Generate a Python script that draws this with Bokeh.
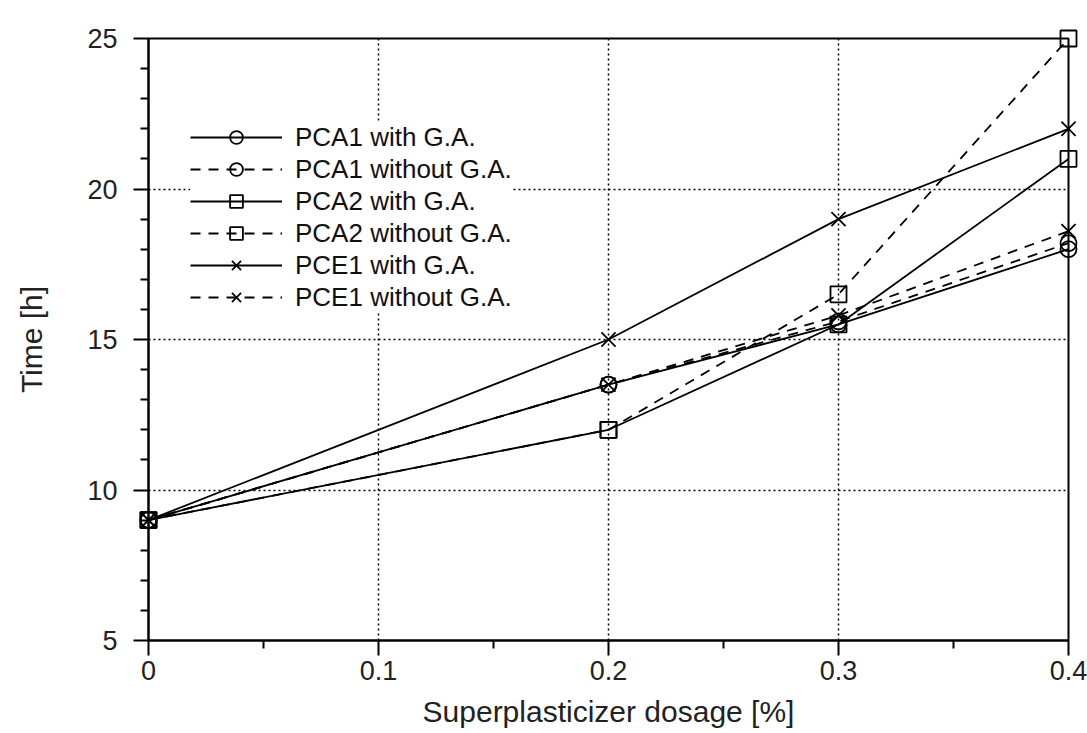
from bokeh.plotting import figure
from bokeh.models import FixedTicker, Legend, LegendItem, Range1d
from bokeh.embed import file_html
from bokeh.resources import INLINE

# ---- data ----
dosage = [0.0, 0.2, 0.3, 0.4]
pca1_with = [9.0, 13.5, 15.5, 18.0]
pca1_without = [9.0, 13.5, 15.6, 18.2]
pca2_with = [9.0, 12.0, 15.5, 21.0]
pca2_without = [9.0, 12.0, 16.5, 25.0]
pce1_with = [9.0, 15.0, 19.0, 22.0]
pce1_without = [9.0, 13.5, 15.8, 18.6]

series_names = ["PCA1 with G.A.", "PCA1 without G.A.", "PCA2 with G.A.",
                "PCA2 without G.A.", "PCE1 with G.A.", "PCE1 without G.A."]
series_values = [pca1_with, pca1_without, pca2_with, pca2_without, pce1_with, pce1_without]
series_markers = ["circle", "circle", "square", "square", "x", "x"]
series_dash = ["solid", "10 8", "solid", "10 8", "solid", "10 8"]

xticks = [0.0, 0.1, 0.2, 0.3, 0.4]
xtick_labels = ["0", "0.1", "0.2", "0.3", "0.4"]
xminor = [0.05, 0.15, 0.25, 0.35]
yticks = [5, 10, 15, 20, 25]
yminor = [v for v in range(6, 25) if v % 5 != 0]

FONT = "Liberation Sans"

p = figure(width=1087, height=733, output_backend="svg", toolbar_location=None,
           x_range=Range1d(0, 0.4), y_range=Range1d(5, 25))
p.min_border_left = 148
p.min_border_right = 19
p.min_border_top = 38
p.min_border_bottom = 93
p.background_fill_color = "white"
p.border_fill_color = "white"
p.outline_line_color = "black"
p.outline_line_width = 2

p.xaxis.ticker = FixedTicker(ticks=xticks, minor_ticks=xminor)
p.yaxis.ticker = FixedTicker(ticks=yticks, minor_ticks=yminor)
p.xaxis.major_label_overrides = {t: l for t, l in zip(xticks, xtick_labels)}

for ax in (p.xaxis, p.yaxis):
    ax.axis_line_width = 2
    ax.axis_line_color = "black"
    ax.major_tick_line_width = 2
    ax.minor_tick_line_width = 2
    ax.major_tick_line_color = "black"
    ax.minor_tick_line_color = "black"
    ax.major_tick_out = 15
    ax.major_tick_in = 0
    ax.minor_tick_out = 8
    ax.minor_tick_in = 0
    ax.major_label_text_font = FONT
    ax.major_label_text_font_size = "27px"
    ax.major_label_text_color = "#222222"
    ax.axis_label_text_font = FONT
    ax.axis_label_text_font_size = "30px"
    ax.axis_label_text_font_style = "normal"
    ax.axis_label_text_color = "#222222"

p.xaxis.axis_label = "Superplasticizer dosage [%]"
p.yaxis.axis_label = "Time [h]"
p.xaxis.major_label_standoff = 5
p.xaxis.axis_label_standoff = 12
p.yaxis.major_label_standoff = 16
p.yaxis.axis_label_standoff = 36

for g in (p.xgrid, p.ygrid):
    g.grid_line_color = "black"
    g.grid_line_dash = "2 3"
    g.grid_line_width = 1.5

items = []
for name, vals, mk, dash in zip(series_names, series_values, series_markers, series_dash):
    lr = p.line(dosage, vals, line_color="black", line_width=1.8, line_dash=dash)
    sr = p.scatter(dosage, vals, marker=mk, size=(20 if mk == "x" else 16),
                   line_color="black", line_width=1.8, fill_color=None)
    sr.level = "overlay"
    items.append(LegendItem(label=name, renderers=[lr, sr]))

legend = Legend(items=items, location=(42, 327), padding=8, margin=0,
                glyph_width=92, glyph_height=32, label_height=32, spacing=0,
                label_standoff=13, label_text_font=FONT, label_text_font_size="26px",
                label_text_color="#111111", background_fill_color="white",
                background_fill_alpha=1.0, border_line_color=None)
p.add_layout(legend, "center")

open("out.html", "w").write(file_html(p, INLINE))
